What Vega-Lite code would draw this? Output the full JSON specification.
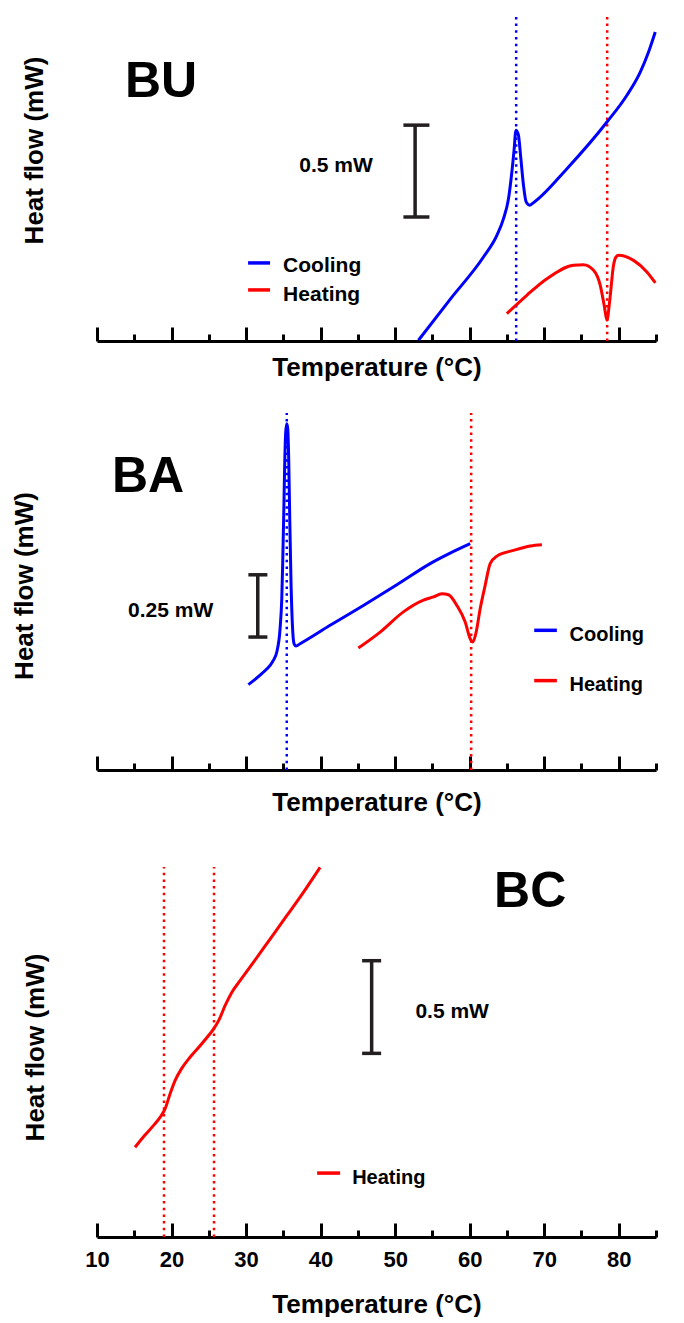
{
  "$schema": "https://vega.github.io/schema/vega-lite/v6.json",
  "padding": {"left": 11, "top": 12, "right": 0, "bottom": 0},
  "spacing": 20,
  "config": {
    "font": "Liberation Sans",
    "view": {"stroke": null},
    "axis": {"grid": false, "titleColor": "black", "labelColor": "black", "titleFontWeight": "bold", "titleFontSize": 26}
  },
  "resolve": {"scale": {"color": "independent", "x": "independent", "y": "independent"}, "legend": {"color": "independent"}},
  "datasets": {
    "bu": [
      {"kind": "curve", "series": "Cooling", "T": 53.13, "hf": 0.004},
      {"kind": "curve", "series": "Cooling", "T": 57.38, "hf": 0.227},
      {"kind": "curve", "series": "Cooling", "T": 61.85, "hf": 0.457},
      {"kind": "curve", "series": "Cooling", "T": 63.65, "hf": 0.575},
      {"kind": "curve", "series": "Cooling", "T": 64.54, "hf": 0.666},
      {"kind": "curve", "series": "Cooling", "T": 65.21, "hf": 0.775},
      {"kind": "curve", "series": "Cooling", "T": 65.66, "hf": 0.92},
      {"kind": "curve", "series": "Cooling", "T": 66.01, "hf": 1.065},
      {"kind": "curve", "series": "Cooling", "T": 66.12, "hf": 1.125},
      {"kind": "curve", "series": "Cooling", "T": 66.24, "hf": 1.147},
      {"kind": "curve", "series": "Cooling", "T": 66.36, "hf": 1.14},
      {"kind": "curve", "series": "Cooling", "T": 66.55, "hf": 1.12},
      {"kind": "curve", "series": "Cooling", "T": 66.87, "hf": 0.992},
      {"kind": "curve", "series": "Cooling", "T": 67.22, "hf": 0.848},
      {"kind": "curve", "series": "Cooling", "T": 67.58, "hf": 0.757},
      {"kind": "curve", "series": "Cooling", "T": 68.03, "hf": 0.739},
      {"kind": "curve", "series": "Cooling", "T": 68.56, "hf": 0.753},
      {"kind": "curve", "series": "Cooling", "T": 73.05, "hf": 0.938},
      {"kind": "curve", "series": "Cooling", "T": 78.42, "hf": 1.192},
      {"kind": "curve", "series": "Cooling", "T": 81.1, "hf": 1.338},
      {"kind": "curve", "series": "Cooling", "T": 82.89, "hf": 1.464},
      {"kind": "curve", "series": "Cooling", "T": 84.0, "hf": 1.573},
      {"kind": "curve", "series": "Cooling", "T": 84.9, "hf": 1.682},
      {"kind": "curve", "series": "Heating", "T": 64.99, "hf": 0.149},
      {"kind": "curve", "series": "Heating", "T": 67.67, "hf": 0.249},
      {"kind": "curve", "series": "Heating", "T": 70.36, "hf": 0.339},
      {"kind": "curve", "series": "Heating", "T": 73.93, "hf": 0.412},
      {"kind": "curve", "series": "Heating", "T": 75.27, "hf": 0.415},
      {"kind": "curve", "series": "Heating", "T": 76.62, "hf": 0.385},
      {"kind": "curve", "series": "Heating", "T": 77.52, "hf": 0.303},
      {"kind": "curve", "series": "Heating", "T": 78.05, "hf": 0.194},
      {"kind": "curve", "series": "Heating", "T": 78.42, "hf": 0.113},
      {"kind": "curve", "series": "Heating", "T": 78.77, "hf": 0.212},
      {"kind": "curve", "series": "Heating", "T": 79.3, "hf": 0.412},
      {"kind": "curve", "series": "Heating", "T": 79.6, "hf": 0.455},
      {"kind": "curve", "series": "Heating", "T": 79.97, "hf": 0.467},
      {"kind": "curve", "series": "Heating", "T": 81.99, "hf": 0.439},
      {"kind": "curve", "series": "Heating", "T": 83.78, "hf": 0.376},
      {"kind": "curve", "series": "Heating", "T": 84.9, "hf": 0.317},
      {"kind": "marker", "series": "Cooling", "T": 66.24, "hf": 0, "hf2": 1.78},
      {"kind": "marker", "series": "Heating", "T": 78.45, "hf": 0, "hf2": 1.78},
      {"kind": "key", "series": "Cooling", "T": 30.27, "T2": 33.22, "hf": 0.425, "hf2": 0.425},
      {"kind": "key", "series": "Heating", "T": 30.27, "T2": 33.22, "hf": 0.278, "hf2": 0.278},
      {"kind": "key label", "label": "Cooling", "T": 34.97, "hf": 0.407},
      {"kind": "key label", "label": "Heating", "T": 34.97, "hf": 0.249},
      {"kind": "bar", "T": 52.68, "T2": 52.68, "hf": 0.675, "hf2": 1.175},
      {"kind": "bar", "T": 51.11, "T2": 54.6, "hf": 1.175, "hf2": 1.175},
      {"kind": "bar", "T": 51.11, "T2": 54.6, "hf": 0.675, "hf2": 0.675},
      {"kind": "bar label", "label": "0.5 mW", "T": 42.08, "hf": 0.952},
      {"kind": "panel label", "label": "BU", "T": 18.59, "hf": 1.41}
    ],
    "ba": [
      {"kind": "curve", "series": "Cooling", "T": 30.31, "hf": 0.343},
      {"kind": "curve", "series": "Cooling", "T": 32.11, "hf": 0.387},
      {"kind": "curve", "series": "Cooling", "T": 33.22, "hf": 0.42},
      {"kind": "curve", "series": "Cooling", "T": 33.67, "hf": 0.441},
      {"kind": "curve", "series": "Cooling", "T": 34.12, "hf": 0.474},
      {"kind": "curve", "series": "Cooling", "T": 34.56, "hf": 0.567},
      {"kind": "curve", "series": "Cooling", "T": 34.79, "hf": 0.688},
      {"kind": "curve", "series": "Cooling", "T": 34.92, "hf": 0.835},
      {"kind": "curve", "series": "Cooling", "T": 35.06, "hf": 1.036},
      {"kind": "curve", "series": "Cooling", "T": 35.19, "hf": 1.237},
      {"kind": "curve", "series": "Cooling", "T": 35.32, "hf": 1.357},
      {"kind": "curve", "series": "Cooling", "T": 35.46, "hf": 1.391},
      {"kind": "curve", "series": "Cooling", "T": 35.59, "hf": 1.371},
      {"kind": "curve", "series": "Cooling", "T": 35.73, "hf": 1.237},
      {"kind": "curve", "series": "Cooling", "T": 35.86, "hf": 1.009},
      {"kind": "curve", "series": "Cooling", "T": 36.04, "hf": 0.742},
      {"kind": "curve", "series": "Cooling", "T": 36.22, "hf": 0.581},
      {"kind": "curve", "series": "Cooling", "T": 36.44, "hf": 0.507},
      {"kind": "curve", "series": "Cooling", "T": 36.71, "hf": 0.498},
      {"kind": "curve", "series": "Cooling", "T": 37.25, "hf": 0.507},
      {"kind": "curve", "series": "Cooling", "T": 41.28, "hf": 0.581},
      {"kind": "curve", "series": "Cooling", "T": 45.74, "hf": 0.661},
      {"kind": "curve", "series": "Cooling", "T": 50.23, "hf": 0.744},
      {"kind": "curve", "series": "Cooling", "T": 54.7, "hf": 0.829},
      {"kind": "curve", "series": "Cooling", "T": 57.38, "hf": 0.871},
      {"kind": "curve", "series": "Cooling", "T": 60.07, "hf": 0.909},
      {"kind": "curve", "series": "Heating", "T": 45.07, "hf": 0.49},
      {"kind": "curve", "series": "Heating", "T": 47.99, "hf": 0.554},
      {"kind": "curve", "series": "Heating", "T": 51.11, "hf": 0.635},
      {"kind": "curve", "series": "Heating", "T": 53.8, "hf": 0.682},
      {"kind": "curve", "series": "Heating", "T": 55.14, "hf": 0.695},
      {"kind": "curve", "series": "Heating", "T": 56.27, "hf": 0.708},
      {"kind": "curve", "series": "Heating", "T": 57.16, "hf": 0.704},
      {"kind": "curve", "series": "Heating", "T": 58.28, "hf": 0.661},
      {"kind": "curve", "series": "Heating", "T": 59.4, "hf": 0.594},
      {"kind": "curve", "series": "Heating", "T": 60.07, "hf": 0.527},
      {"kind": "curve", "series": "Heating", "T": 60.43, "hf": 0.514},
      {"kind": "curve", "series": "Heating", "T": 60.87, "hf": 0.554},
      {"kind": "curve", "series": "Heating", "T": 61.41, "hf": 0.648},
      {"kind": "curve", "series": "Heating", "T": 62.08, "hf": 0.742},
      {"kind": "curve", "series": "Heating", "T": 62.75, "hf": 0.829},
      {"kind": "curve", "series": "Heating", "T": 63.65, "hf": 0.859},
      {"kind": "curve", "series": "Heating", "T": 65.88, "hf": 0.882},
      {"kind": "curve", "series": "Heating", "T": 68.12, "hf": 0.9},
      {"kind": "curve", "series": "Heating", "T": 69.69, "hf": 0.905},
      {"kind": "marker", "series": "Cooling", "T": 35.46, "hf": 0, "hf2": 1.434},
      {"kind": "marker", "series": "Heating", "T": 60.2, "hf": 0, "hf2": 1.434},
      {"kind": "key", "series": "Cooling", "T": 68.66, "T2": 71.7, "hf": 0.561, "hf2": 0.561},
      {"kind": "key", "series": "Heating", "T": 68.66, "T2": 71.7, "hf": 0.359, "hf2": 0.359},
      {"kind": "key label", "label": "Cooling", "T": 73.4, "hf": 0.543},
      {"kind": "key label", "label": "Heating", "T": 73.4, "hf": 0.341},
      {"kind": "bar", "T": 31.57, "T2": 31.57, "hf": 0.534, "hf2": 0.784},
      {"kind": "bar", "T": 30.31, "T2": 32.86, "hf": 0.784, "hf2": 0.784},
      {"kind": "bar", "T": 30.31, "T2": 32.86, "hf": 0.534, "hf2": 0.534},
      {"kind": "bar label", "label": "0.25 mW", "T": 19.88, "hf": 0.64},
      {"kind": "panel label", "label": "BA", "T": 16.85, "hf": 1.177}
    ],
    "bc": [
      {"kind": "curve", "series": "Heating", "T": 15.1, "hf": 0.484},
      {"kind": "curve", "series": "Heating", "T": 16.44, "hf": 0.55},
      {"kind": "curve", "series": "Heating", "T": 17.56, "hf": 0.601},
      {"kind": "curve", "series": "Heating", "T": 18.46, "hf": 0.646},
      {"kind": "curve", "series": "Heating", "T": 19.13, "hf": 0.691},
      {"kind": "curve", "series": "Heating", "T": 19.8, "hf": 0.772},
      {"kind": "curve", "series": "Heating", "T": 20.47, "hf": 0.844},
      {"kind": "curve", "series": "Heating", "T": 21.37, "hf": 0.91},
      {"kind": "curve", "series": "Heating", "T": 22.48, "hf": 0.97},
      {"kind": "curve", "series": "Heating", "T": 23.83, "hf": 1.032},
      {"kind": "curve", "series": "Heating", "T": 24.94, "hf": 1.086},
      {"kind": "curve", "series": "Heating", "T": 25.7, "hf": 1.126},
      {"kind": "curve", "series": "Heating", "T": 26.42, "hf": 1.176},
      {"kind": "curve", "series": "Heating", "T": 27.18, "hf": 1.248},
      {"kind": "curve", "series": "Heating", "T": 28.08, "hf": 1.32},
      {"kind": "curve", "series": "Heating", "T": 29.19, "hf": 1.383},
      {"kind": "curve", "series": "Heating", "T": 30.98, "hf": 1.482},
      {"kind": "curve", "series": "Heating", "T": 33.22, "hf": 1.608},
      {"kind": "curve", "series": "Heating", "T": 35.46, "hf": 1.734},
      {"kind": "curve", "series": "Heating", "T": 37.69, "hf": 1.86},
      {"kind": "curve", "series": "Heating", "T": 39.93, "hf": 1.995},
      {"kind": "marker", "series": "Heating", "T": 18.99, "hf": 0, "hf2": 1.997},
      {"kind": "marker", "series": "Heating", "T": 25.7, "hf": 0, "hf2": 1.997},
      {"kind": "key", "series": "Heating", "T": 39.53, "T2": 42.62, "hf": 0.345, "hf2": 0.345},
      {"kind": "key label", "label": "Heating", "T": 44.23, "hf": 0.318},
      {"kind": "bar", "T": 46.85, "T2": 46.85, "hf": 0.991, "hf2": 1.491},
      {"kind": "bar", "T": 45.57, "T2": 48.12, "hf": 1.491, "hf2": 1.491},
      {"kind": "bar", "T": 45.57, "T2": 48.12, "hf": 0.991, "hf2": 0.991},
      {"kind": "bar label", "label": "0.5 mW", "T": 57.65, "hf": 1.214},
      {"kind": "panel label", "label": "BC", "T": 68.12, "hf": 1.862}
    ]
  },
  "vconcat": [
    {
      "width": 559, "height": 327,
      "data": {"name": "bu"},
      "encoding": {
        "x": {"field": "T", "type": "quantitative", "scale": {"domain": [10, 85], "nice": false, "zero": false},
          "axis": {"title": "Temperature (°C)", "values": [10, 15, 20, 25, 30, 35, 40, 45, 50, 55, 60, 65, 70, 75, 80, 85], "labels": false, "domainWidth": 3, "domainColor": "black", "tickColor": "black", "tickWidth": 3, "tickSize": {"condition": {"test": "datum.value % 10 === 0", "value": -14}, "value": -7}, "titlePadding": 12}},
        "y": {"field": "hf", "type": "quantitative", "scale": {"domain": [0, 1.78], "nice": false, "zero": false},
          "axis": {"title": "Heat flow (mW)", "domain": false, "ticks": false, "labels": false, "titlePadding": 50, "titleY": 136}}
      },
      "layer": [
        {"transform": [{"filter": "datum.kind === 'marker'"}], "mark": {"type": "rule", "strokeWidth": 2.5, "strokeDash": [2.5, 4.2]}, "encoding": {"y2": {"field": "hf2"}, "color": {"field": "series", "type": "nominal", "scale": {"domain": ["Cooling", "Heating"], "range": ["#0000ff", "#ff0000"]}, "legend": null}}},
        {"transform": [{"filter": "datum.kind === 'curve'"}], "mark": {"type": "line", "strokeWidth": 3, "interpolate": "monotone"}, "encoding": {"color": {"field": "series", "type": "nominal", "legend": null}}},
        {"transform": [{"filter": "datum.kind === 'key'"}], "mark": {"type": "rule", "strokeWidth": 3.5}, "encoding": {"x2": {"field": "T2"}, "y2": {"field": "hf2"}, "color": {"field": "series", "type": "nominal", "legend": null}}},
        {"transform": [{"filter": "datum.kind === 'key label'"}], "mark": {"type": "text", "fontSize": 21, "fontWeight": "bold", "baseline": "middle", "align": "left", "color": "black"}, "encoding": {"text": {"field": "label"}}},
        {"transform": [{"filter": "datum.kind === 'bar'"}], "mark": {"type": "rule", "strokeWidth": 3.5, "color": "#231f20"}, "encoding": {"x2": {"field": "T2"}, "y2": {"field": "hf2"}}},
        {"transform": [{"filter": "datum.kind === 'bar label'"}], "mark": {"type": "text", "fontSize": 21, "fontWeight": "bold", "baseline": "middle", "align": "center", "color": "black"}, "encoding": {"text": {"field": "label"}}},
        {"transform": [{"filter": "datum.kind === 'panel label'"}], "mark": {"type": "text", "fontSize": 50, "fontWeight": "bold", "baseline": "middle", "align": "center", "color": "black"}, "encoding": {"text": {"field": "label"}}}
      ]
    },
    {
      "width": 559, "height": 369,
      "data": {"name": "ba"},
      "encoding": {
        "x": {"field": "T", "type": "quantitative", "scale": {"domain": [10, 85], "nice": false, "zero": false},
          "axis": {"title": "Temperature (°C)", "values": [10, 15, 20, 25, 30, 35, 40, 45, 50, 55, 60, 65, 70, 75, 80, 85], "labels": false, "domainWidth": 3, "domainColor": "black", "tickColor": "black", "tickWidth": 3, "tickSize": {"condition": {"test": "datum.value % 10 === 0", "value": -14}, "value": -7}, "titlePadding": 18}},
        "y": {"field": "hf", "type": "quantitative", "scale": {"domain": [0, 1.482], "nice": false, "zero": false},
          "axis": {"title": "Heat flow (mW)", "domain": false, "ticks": false, "labels": false, "titlePadding": 60}}
      },
      "layer": [
        {"transform": [{"filter": "datum.kind === 'marker'"}], "mark": {"type": "rule", "strokeWidth": 2.5, "strokeDash": [2.5, 4.2]}, "encoding": {"y2": {"field": "hf2"}, "color": {"field": "series", "type": "nominal", "scale": {"domain": ["Cooling", "Heating"], "range": ["#0000ff", "#ff0000"]}, "legend": null}}},
        {"transform": [{"filter": "datum.kind === 'curve'"}], "mark": {"type": "line", "strokeWidth": 3, "interpolate": "monotone"}, "encoding": {"color": {"field": "series", "type": "nominal", "legend": null}}},
        {"transform": [{"filter": "datum.kind === 'key'"}], "mark": {"type": "rule", "strokeWidth": 3.5}, "encoding": {"x2": {"field": "T2"}, "y2": {"field": "hf2"}, "color": {"field": "series", "type": "nominal", "legend": null}}},
        {"transform": [{"filter": "datum.kind === 'key label'"}], "mark": {"type": "text", "fontSize": 20, "fontWeight": "bold", "baseline": "middle", "align": "left", "color": "black"}, "encoding": {"text": {"field": "label"}}},
        {"transform": [{"filter": "datum.kind === 'bar'"}], "mark": {"type": "rule", "strokeWidth": 3.5, "color": "#231f20"}, "encoding": {"x2": {"field": "T2"}, "y2": {"field": "hf2"}}},
        {"transform": [{"filter": "datum.kind === 'bar label'"}], "mark": {"type": "text", "fontSize": 21, "fontWeight": "bold", "baseline": "middle", "align": "center", "color": "black"}, "encoding": {"text": {"field": "label"}}},
        {"transform": [{"filter": "datum.kind === 'panel label'"}], "mark": {"type": "text", "fontSize": 50, "fontWeight": "bold", "baseline": "middle", "align": "center", "color": "black"}, "encoding": {"text": {"field": "label"}}}
      ]
    },
    {
      "width": 559, "height": 401,
      "data": {"name": "bc"},
      "encoding": {
        "x": {"field": "T", "type": "quantitative", "scale": {"domain": [10, 85], "nice": false, "zero": false},
          "axis": {"title": "Temperature (°C)", "values": [10, 15, 20, 25, 30, 35, 40, 45, 50, 55, 60, 65, 70, 75, 80, 85], "labelExpr": "datum.value % 10 === 0 ? datum.label : ''", "labelFlush": false, "labelOverlap": false, "labelFontSize": 22, "labelFontWeight": "bold", "labelPadding": 26, "domainWidth": 3, "domainColor": "black", "tickColor": "black", "tickWidth": 3, "tickSize": {"condition": {"test": "datum.value % 10 === 0", "value": -14}, "value": -7}, "titlePadding": 14}},
        "y": {"field": "hf", "type": "quantitative", "scale": {"domain": [0, 2.164], "nice": false, "zero": false},
          "axis": {"title": "Heat flow (mW)", "domain": false, "ticks": false, "labels": false, "titlePadding": 49, "titleY": 211}}
      },
      "layer": [
        {"transform": [{"filter": "datum.kind === 'marker'"}], "mark": {"type": "rule", "strokeWidth": 2.5, "strokeDash": [2.5, 4.2]}, "encoding": {"y2": {"field": "hf2"}, "color": {"field": "series", "type": "nominal", "scale": {"domain": ["Heating"], "range": ["#ff0000"]}, "legend": null}}},
        {"transform": [{"filter": "datum.kind === 'curve'"}], "mark": {"type": "line", "strokeWidth": 3, "interpolate": "monotone"}, "encoding": {"color": {"field": "series", "type": "nominal", "legend": null}}},
        {"transform": [{"filter": "datum.kind === 'key'"}], "mark": {"type": "rule", "strokeWidth": 3.5}, "encoding": {"x2": {"field": "T2"}, "y2": {"field": "hf2"}, "color": {"field": "series", "type": "nominal", "legend": null}}},
        {"transform": [{"filter": "datum.kind === 'key label'"}], "mark": {"type": "text", "fontSize": 20, "fontWeight": "bold", "baseline": "middle", "align": "left", "color": "black"}, "encoding": {"text": {"field": "label"}}},
        {"transform": [{"filter": "datum.kind === 'bar'"}], "mark": {"type": "rule", "strokeWidth": 3.5, "color": "#231f20"}, "encoding": {"x2": {"field": "T2"}, "y2": {"field": "hf2"}}},
        {"transform": [{"filter": "datum.kind === 'bar label'"}], "mark": {"type": "text", "fontSize": 21, "fontWeight": "bold", "baseline": "middle", "align": "center", "color": "black"}, "encoding": {"text": {"field": "label"}}},
        {"transform": [{"filter": "datum.kind === 'panel label'"}], "mark": {"type": "text", "fontSize": 50, "fontWeight": "bold", "baseline": "middle", "align": "center", "color": "black"}, "encoding": {"text": {"field": "label"}}}
      ]
    }
  ]
}
